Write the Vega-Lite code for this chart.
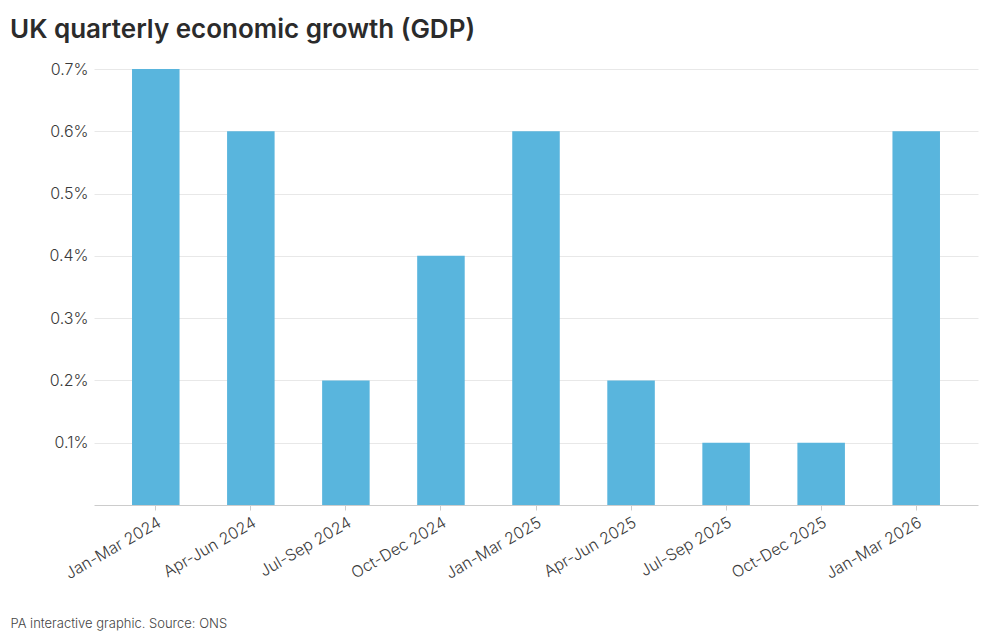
{
  "$schema": "https://vega.github.io/schema/vega-lite/v6.json",
  "autosize": "none",
  "width": 884,
  "height": 436,
  "padding": {"left": 94, "top": 69, "right": 22, "bottom": 132},
  "background": "white",
  "title": {
    "text": "UK quarterly economic growth (GDP)",
    "anchor": "start",
    "frame": "group",
    "dx": -84,
    "font": "Inter",
    "fontSize": 26,
    "fontWeight": 600,
    "color": "#2b2b2b",
    "offset": 18
  },
  "data": {
    "values": [
      {"quarter": "Jan-Mar 2024", "growth": 0.7},
      {"quarter": "Apr-Jun 2024", "growth": 0.6},
      {"quarter": "Jul-Sep 2024", "growth": 0.2},
      {"quarter": "Oct-Dec 2024", "growth": 0.4},
      {"quarter": "Jan-Mar 2025", "growth": 0.6},
      {"quarter": "Apr-Jun 2025", "growth": 0.2},
      {"quarter": "Jul-Sep 2025", "growth": 0.1},
      {"quarter": "Oct-Dec 2025", "growth": 0.1},
      {"quarter": "Jan-Mar 2026", "growth": 0.6}
    ]
  },
  "mark": {"type": "bar", "color": "#59b5dd"},
  "encoding": {
    "x": {
      "field": "quarter",
      "type": "nominal",
      "sort": null,
      "scale": {"paddingInner": 0.5, "paddingOuter": 0.4},
      "axis": {
        "title": "PA interactive graphic. Source: ONS",
        "titleAnchor": "start",
        "titleAlign": "left",
        "titleX": -84,
        "titleY": 122,
        "titleBaseline": "alphabetic",
        "titleFont": "Inter",
        "titleFontSize": 13,
        "titleFontWeight": 300,
        "titleColor": "#444444",
        "labelAngle": -30,
        "labelFont": "Inter",
        "labelFontSize": 16,
        "labelFontWeight": 300,
        "labelColor": "#3a3a3a",
        "labelPadding": 4,
        "domainColor": "#cccccc",
        "tickColor": "#cccccc",
        "tickSize": 5,
        "grid": false
      }
    },
    "y": {
      "field": "growth",
      "type": "quantitative",
      "scale": {"domain": [0, 0.7]},
      "axis": {
        "title": null,
        "values": [0.1, 0.2, 0.3, 0.4, 0.5, 0.6, 0.7],
        "labelExpr": "format(datum.value, '.1f') + '%'",
        "labelFont": "Inter",
        "labelFontSize": 16,
        "labelFontWeight": 300,
        "labelColor": "#3a3a3a",
        "labelPadding": 6,
        "ticks": false,
        "domain": false,
        "grid": true,
        "gridColor": "#e8e8e8"
      }
    }
  },
  "config": {"view": {"stroke": null}}
}
